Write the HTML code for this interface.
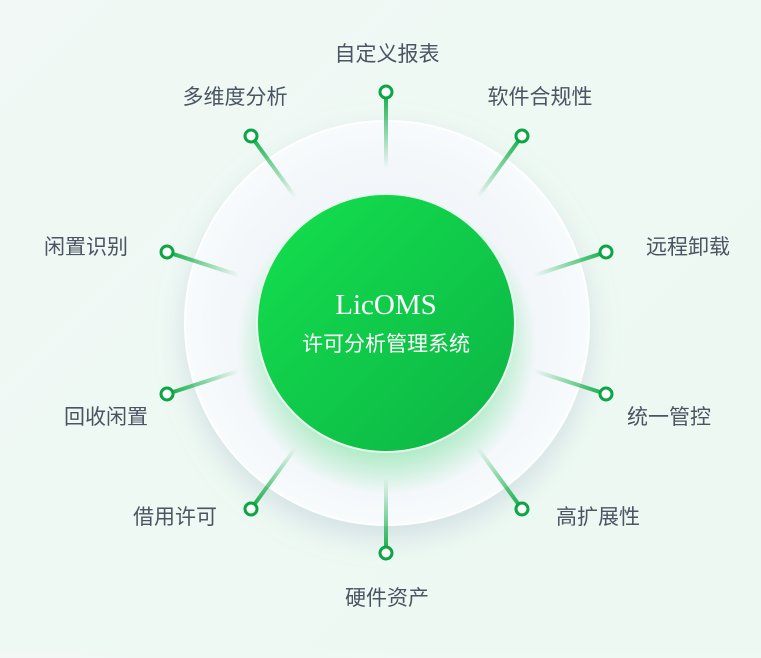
<!DOCTYPE html>
<html><head><meta charset="utf-8"><style>
html,body{margin:0;padding:0}
body{width:761px;height:653px;overflow:hidden;background:linear-gradient(135deg,#f1f8f5 0%,#eef9f3 50%,#edf8f2 100%);}
svg text{font-family:"Liberation Sans","Noto Sans CJK SC",sans-serif;}
</style></head><body>
<svg width="761" height="653" viewBox="0 0 761 653" xmlns="http://www.w3.org/2000/svg">
<defs>
<radialGradient id="outer" cx="0.5" cy="0.5" r="0.5">
<stop offset="0" stop-color="#eef3f7"/><stop offset="0.8" stop-color="#f3f7fa"/><stop offset="1" stop-color="#f8fbfc"/>
</radialGradient>
<linearGradient id="core" x1="0" y1="0" x2="1" y2="1">
<stop offset="0" stop-color="#14e04e"/><stop offset="1" stop-color="#0cb445"/>
</linearGradient>
<radialGradient id="glow" cx="0.5" cy="0.5" r="0.5">
<stop offset="0.7" stop-color="#2ad460" stop-opacity="0.35"/><stop offset="1" stop-color="#2ad460" stop-opacity="0"/>
</radialGradient>
<filter id="sh" x="-30%" y="-30%" width="160%" height="160%"><feDropShadow dx="0" dy="12" stdDeviation="14" flood-color="#9fb3c8" flood-opacity="0.35"/></filter>
<linearGradient id="g1" gradientUnits="userSpaceOnUse" x1="386" y1="92" x2="386" y2="168"><stop offset="0" stop-color="#0fae45"/><stop offset="1" stop-color="#0fae45" stop-opacity="0"/></linearGradient>
<linearGradient id="g2" gradientUnits="userSpaceOnUse" x1="251" y1="136" x2="295.5" y2="197.5"><stop offset="0" stop-color="#0fae45"/><stop offset="1" stop-color="#0fae45" stop-opacity="0"/></linearGradient>
<linearGradient id="g3" gradientUnits="userSpaceOnUse" x1="522" y1="136" x2="477.5" y2="197.5"><stop offset="0" stop-color="#0fae45"/><stop offset="1" stop-color="#0fae45" stop-opacity="0"/></linearGradient>
<linearGradient id="g4" gradientUnits="userSpaceOnUse" x1="167" y1="252" x2="239" y2="275.3"><stop offset="0" stop-color="#0fae45"/><stop offset="1" stop-color="#0fae45" stop-opacity="0"/></linearGradient>
<linearGradient id="g5" gradientUnits="userSpaceOnUse" x1="606" y1="252" x2="534" y2="275.3"><stop offset="0" stop-color="#0fae45"/><stop offset="1" stop-color="#0fae45" stop-opacity="0"/></linearGradient>
<linearGradient id="g6" gradientUnits="userSpaceOnUse" x1="167" y1="394" x2="239" y2="370.7"><stop offset="0" stop-color="#0fae45"/><stop offset="1" stop-color="#0fae45" stop-opacity="0"/></linearGradient>
<linearGradient id="g7" gradientUnits="userSpaceOnUse" x1="606" y1="394" x2="534" y2="370.7"><stop offset="0" stop-color="#0fae45"/><stop offset="1" stop-color="#0fae45" stop-opacity="0"/></linearGradient>
<linearGradient id="g8" gradientUnits="userSpaceOnUse" x1="251" y1="509" x2="295.5" y2="448"><stop offset="0" stop-color="#0fae45"/><stop offset="1" stop-color="#0fae45" stop-opacity="0"/></linearGradient>
<linearGradient id="g9" gradientUnits="userSpaceOnUse" x1="522" y1="509" x2="477.5" y2="448"><stop offset="0" stop-color="#0fae45"/><stop offset="1" stop-color="#0fae45" stop-opacity="0"/></linearGradient>
<linearGradient id="g10" gradientUnits="userSpaceOnUse" x1="386" y1="553" x2="386" y2="478"><stop offset="0" stop-color="#0fae45"/><stop offset="1" stop-color="#0fae45" stop-opacity="0"/></linearGradient>
</defs>
<circle cx="387" cy="323" r="202" fill="url(#outer)" stroke="#ffffff" stroke-width="2" filter="url(#sh)"/>
<circle cx="387" cy="345" r="150" fill="url(#glow)"/>
<circle cx="386" cy="323" r="129" fill="url(#core)" stroke="#e8f8ee" stroke-width="2"/>
<g stroke-width="4">
<line x1="386" y1="92" x2="386" y2="168" stroke="url(#g1)"/>
<line x1="251" y1="136" x2="295.5" y2="197.5" stroke="url(#g2)"/>
<line x1="522" y1="136" x2="477.5" y2="197.5" stroke="url(#g3)"/>
<line x1="167" y1="252" x2="239" y2="275.3" stroke="url(#g4)"/>
<line x1="606" y1="252" x2="534" y2="275.3" stroke="url(#g5)"/>
<line x1="167" y1="394" x2="239" y2="370.7" stroke="url(#g6)"/>
<line x1="606" y1="394" x2="534" y2="370.7" stroke="url(#g7)"/>
<line x1="251" y1="509" x2="295.5" y2="448" stroke="url(#g8)"/>
<line x1="522" y1="509" x2="477.5" y2="448" stroke="url(#g9)"/>
<line x1="386" y1="553" x2="386" y2="478" stroke="url(#g10)"/>
</g>
<g fill="#fff" stroke="#0ba544" stroke-width="3">
<circle cx="386" cy="92" r="6"/><circle cx="251" cy="136" r="6"/><circle cx="522" cy="136" r="6"/>
<circle cx="167" cy="252" r="6"/><circle cx="606" cy="252" r="6"/><circle cx="167" cy="394" r="6"/>
<circle cx="606" cy="394" r="6"/><circle cx="251" cy="509" r="6"/><circle cx="522" cy="509" r="6"/>
<circle cx="386" cy="553" r="6"/>
</g>
<text x="386" y="314" text-anchor="middle" fill="#fff" font-size="29" style="font-family:'Liberation Serif','DejaVu Serif',serif">LicOMS</text>
<text x="386" y="351" text-anchor="middle" fill="#fff" font-size="21">许可分析管理系统</text>
<g font-size="21" fill="#4b5462">
<text x="387" y="61" text-anchor="middle">自定义报表</text>
<text x="235" y="104" text-anchor="middle">多维度分析</text>
<text x="540" y="104" text-anchor="middle">软件合规性</text>
<text x="86" y="254" text-anchor="middle">闲置识别</text>
<text x="688" y="254" text-anchor="middle">远程卸载</text>
<text x="106" y="424" text-anchor="middle">回收闲置</text>
<text x="669" y="424" text-anchor="middle">统一管控</text>
<text x="175" y="524" text-anchor="middle">借用许可</text>
<text x="598" y="524" text-anchor="middle">高扩展性</text>
<text x="387" y="605" text-anchor="middle">硬件资产</text>
</g>
</svg>
</body></html>
